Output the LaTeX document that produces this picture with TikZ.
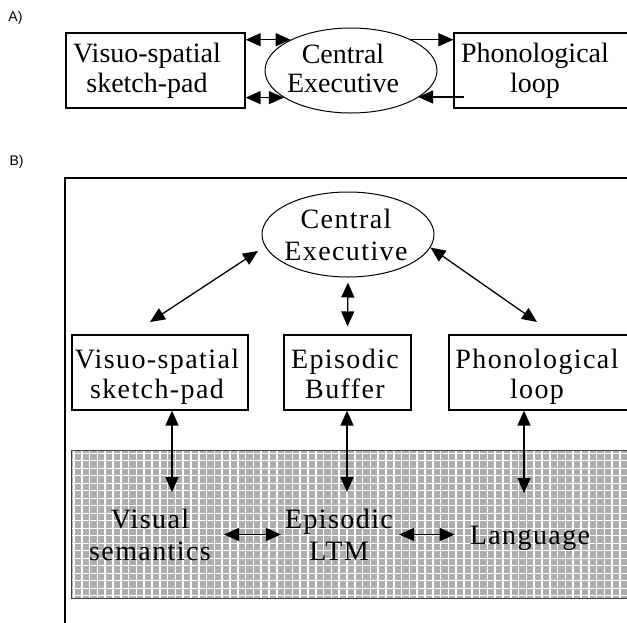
\documentclass[tikz,border=0pt]{standalone}
\usepackage{fontspec}
\setmainfont{Liberation Serif}
\newfontfamily\bsfont[LetterSpace=5]{Liberation Serif}
\newfontfamily\labfont{Liberation Sans}
\usetikzlibrary{arrows.meta,shapes.geometric}
\tikzset{
  boxnode/.style={draw,rectangle,line width=1.2pt,inner sep=0pt},
  ellnode/.style={draw,ellipse,line width=1pt,inner sep=0pt,minimum width=172pt,minimum height=85pt},
  txtA/.style={inner sep=0pt,align=center,font=\fontsize{28}{29.5}\selectfont},
  txtB/.style={inner sep=0pt,align=center,font=\bsfont\fontsize{28}{#1}\selectfont},
  txtB/.default=30,
  tipA/.tip={Triangle[length=15pt,width=13pt]},
  both/.style={tipA-tipA,line width=1.3pt},
  one/.style={-tipA,line width=1.1pt},
  lab/.style={inner sep=0pt,font=\labfont\fontsize{14}{16}\selectfont}
}
\begin{document}
\begin{tikzpicture}[x=1pt,y=-1pt]
\useasboundingbox (0,0) rectangle (627,622);
\clip (0,0) rectangle (627,622);
\fill[white] (0,0) rectangle (627,622);

% ---------------- A ----------------
\node[lab] (labA) at (15.5,18) {A)};
\node[boxnode,minimum width=179pt,minimum height=75pt] (visA) at (155.5,70.5) {};
\node[txtA] (visAt) at (147,71) {Visuo-spatial\\sketch-pad};
\node[ellnode] (ellA) at (351,70.5) {};
\node[txtA] (ellAt) at (343,68.5) {Central\\Executive};
\node[boxnode,minimum width=186pt,minimum height=75pt] (phonA) at (547,70.5) {};
\node[txtA] (phonAt) at (535,71) {Phonological\\loop};

\draw[both] (visA.east |- ellA.153) -- (ellA.153);
\draw[both] (visA.east |- ellA.202) -- (ellA.202);
\draw[one] (ellA.27) -- (phonA.west |- ellA.27);
\coordinate (pin) at (464,97);
\draw[one] (pin) -- (ellA.-22 |- pin);

% ---------------- B ----------------
\node[lab] (labB) at (16.5,161.5) {B)};
\draw[line width=1.2pt] (640,178) -- (65,178) -- (65,640);

\node[ellnode] (ellB) at (348,234.5) {};
\node[txtB=32] (ellBt) at (346,234.5) {Central\\Executive};

\node[boxnode,minimum width=176pt,minimum height=75pt] (visB) at (160,372.5) {};
\node[txtB] (visBt) at (157,376.5) {Visuo-spatial\\sketch-pad};
\node[boxnode,minimum width=127pt,minimum height=75pt] (epiB) at (347.5,372.5) {};
\node[txtB] (epiBt) at (345,373.5) {Episodic\\Buffer};
\node[boxnode,minimum width=191pt,minimum height=75pt] (phonB) at (544.5,372.5) {};
\node[txtB] (phonBt) at (537,376.5) {Phonological\\loop};

\coordinate (dl1) at (150,322);
\coordinate (dl2) at (258,251);
\coordinate (dr2) at (537,322);
\draw[both] (dl1) -- (dl2);
\draw[both,shorten <=5pt,shorten >=8pt] (ellB.south) -- (epiB.north);
\draw[both] (ellB.-9) -- (dr2);

% shaded LTM region
\node[rectangle,inner sep=0pt,fill=black!32,minimum width=568pt,minimum height=147pt] (shade) at (356,524.5) {};
\begin{scope}
\clip (shade.north west) rectangle (shade.south east);
\foreach \x in {74,81.8,...,640} \draw[white,line width=1.5pt] (\x,451) -- (\x,598);
\foreach \y in {453,460.5,...,598} \draw[white,line width=0.8pt] (72,\y) -- (640,\y);
\end{scope}
\draw[line width=1.1pt,black!75] (shade.north west) rectangle (shade.south east);

\node[txtB=32] (vsem) at (150,534.5) {Visual\\semantics};
\node[txtB=32] (eltm) at (339,534.5) {Episodic\\LTM};
\node[txtB] (lang) at (530,538.5) {Language};

\coordinate (vsx) at (172,492);
\coordinate (ebx) at (347,492);
\coordinate (plx) at (524,493);
\draw[both] (visB.south -| vsx) -- (vsx);
\draw[both] (epiB.south -| ebx) -- (ebx);
\draw[both] (phonB.south -| plx) -- (plx);

\draw[both,shorten <=13pt,shorten >=4pt] (vsem.east) -- (eltm.west);
\draw[both,shorten <=6pt,shorten >=15pt] (eltm.east) -- (lang.west |- eltm.east);
\end{tikzpicture}
\end{document}
